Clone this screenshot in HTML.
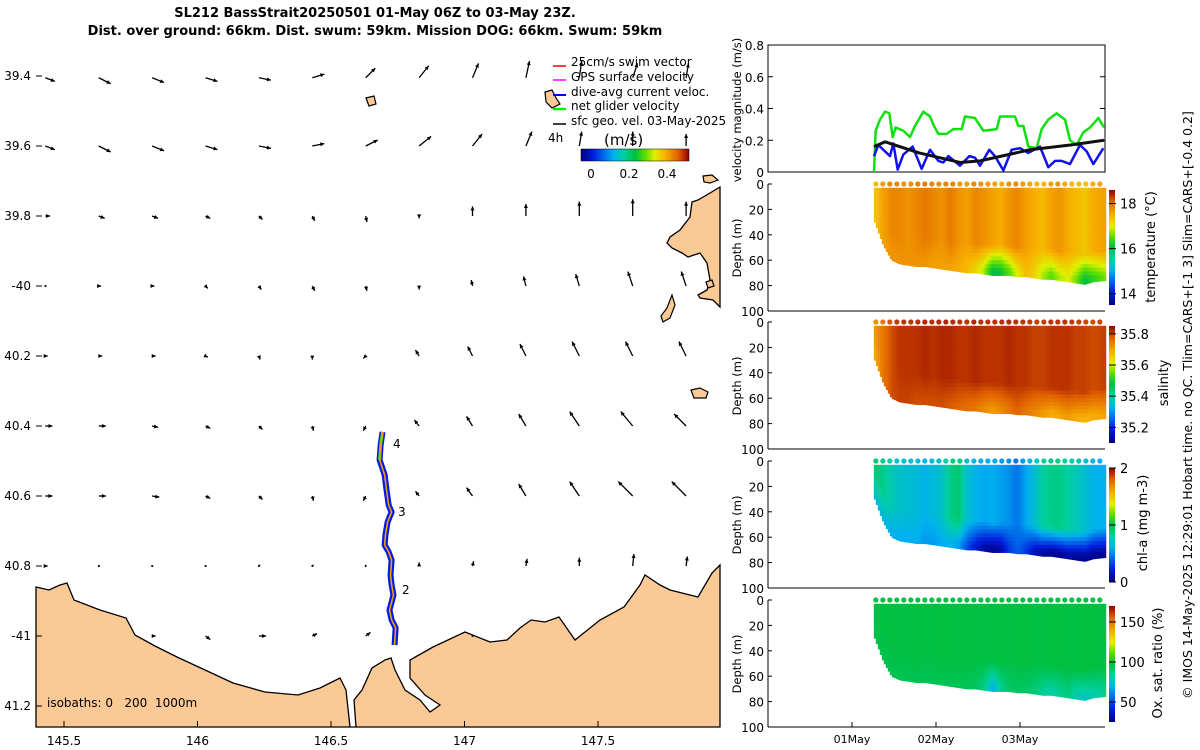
<!DOCTYPE html>
<html><head><meta charset="utf-8"><style>
html,body{margin:0;padding:0;background:#fff;}
svg{display:block;font-family:"DejaVu Sans","Liberation Sans",sans-serif;}
</style></head><body>
<svg id="c" width="1200" height="750" viewBox="0 0 1200 750" xmlns="http://www.w3.org/2000/svg">
<defs>
<linearGradient id="jetH" x1="0" x2="1" y1="0" y2="0">
<stop offset="0" stop-color="#000080"/><stop offset="0.12" stop-color="#0020e0"/><stop offset="0.3" stop-color="#00b0f0"/><stop offset="0.4" stop-color="#00d0a0"/><stop offset="0.5" stop-color="#00c040"/><stop offset="0.6" stop-color="#60e000"/><stop offset="0.68" stop-color="#e0f000"/><stop offset="0.78" stop-color="#f8b000"/><stop offset="0.9" stop-color="#e06000"/><stop offset="1" stop-color="#900000"/>
</linearGradient>
<linearGradient id="jetV" x1="0" x2="0" y1="1" y2="0">
<stop offset="0" stop-color="#000080"/><stop offset="0.12" stop-color="#0020e0"/><stop offset="0.3" stop-color="#00b0f0"/><stop offset="0.4" stop-color="#00d0a0"/><stop offset="0.5" stop-color="#00c040"/><stop offset="0.6" stop-color="#60e000"/><stop offset="0.68" stop-color="#e0f000"/><stop offset="0.78" stop-color="#f8b000"/><stop offset="0.9" stop-color="#e06000"/><stop offset="1" stop-color="#900000"/>
</linearGradient>
</defs>
<g font-weight="bold" font-size="13" text-anchor="middle">
<text x="375" y="17">SL212 BassStrait20250501 01-May 06Z to 03-May 23Z.</text>
<text x="375" y="35">Dist. over ground: 66km. Dist. swum: 59km. Mission DOG: 66km. Swum: 59km</text>
</g>
<g id="map">
<path fill="#fbc995" stroke="#000" stroke-width="1.3" d="M36,587 L49,590 L60,585 L67,583 L74,600 L100,610 L126,618 L135,635 L155,646 L177,657 L205,670 L233,683 L265,692 L298,695 L320,688 L340,678 L346,690 L350,727 L356,727 L354,700 L362,690 L372,668 L385,660 L391,658 L395,670 L405,690 L420,700 L430,712 L440,705 L425,695 L410,678 L410,660 L433,647 L465,632 L490,642 L507,640 L520,628 L531,620 L545,622 L559,617 L575,640 L600,620 L624,607 L640,585 L645,575 L660,585 L670,590 L698,597 L712,573 L720,565 L720,727 L36,727 Z"/>
<path fill="#fbc995" stroke="#000" stroke-width="1.3" d="M720,187 L710,193 L698,200 L692,202 L690,217 L680,230 L670,237 L667,243 L672,248 L682,253 L688,257 L700,253 L707,263 L710,280 L707,290 L698,295 L700,298 L713,300 L720,307 Z"/>
<path fill="#fbc995" stroke="#000" stroke-width="1.2" d="M672,295 L675,305 L670,318 L663,322 L661,316 L667,308 Z"/>
<path fill="#fbc995" stroke="#000" stroke-width="1.2" d="M691,390 L700,388 L708,392 L706,398 L694,398 Z"/>
<path fill="#fbc995" stroke="#000" stroke-width="1.2" d="M703,176 L712,175 L718,180 L710,183 L704,182 Z"/>
<path fill="#fbc995" stroke="#000" stroke-width="1.2" d="M366,98 L374,96 L376,104 L369,106 Z"/>
<path fill="#fbc995" stroke="#000" stroke-width="1.2" d="M545,92 L552,90 L556,98 L560,104 L552,108 L546,102 Z"/>
<path fill="#fbc995" stroke="#000" stroke-width="1.2" d="M706,282 L712,280 L714,286 L708,288 Z"/>
<g id="arrows"></g>
<g>
<polyline id="trackBlue" fill="none" stroke="#0018f0" stroke-width="6" stroke-linejoin="round"/>
<polyline id="trackGreen" fill="none" stroke="#20e020" stroke-width="3"/>
<polyline id="trackOrange" fill="none" stroke="#f0a000" stroke-width="1.6"/>
</g>
<g font-size="12">
<text x="393" y="448">4</text><text x="398" y="516">3</text><text x="402" y="594">2</text>
</g>
<text x="47" y="707" font-size="12" style="white-space:pre">isobaths: 0   200  1000m</text>
<g id="mapAxes" font-size="12"></g>
<g font-size="12">
<line x1="553" y1="66" x2="566" y2="66" stroke="#f00" stroke-width="1.5"/><text x="571" y="66">25cm/s swim vector</text>
<line x1="553" y1="80" x2="566" y2="80" stroke="#f0f" stroke-width="1.5"/><text x="571" y="81">GPS surface velocity</text>
<line x1="553" y1="95" x2="566" y2="95" stroke="#00f" stroke-width="2"/><text x="571" y="96">dive-avg current veloc.</text>
<line x1="553" y1="109" x2="566" y2="109" stroke="#0e0" stroke-width="2.5"/><text x="571" y="110">net glider velocity</text>
<line x1="553" y1="124" x2="566" y2="124" stroke="#000" stroke-width="1.5"/><text x="571" y="125">sfc geo. vel. 03-May-2025</text>
<text x="548" y="142">4h</text>
<text x="604" y="145" font-size="15">(m/s)</text>
<rect x="581" y="149" width="108" height="12" fill="url(#jetH)" stroke="#000" stroke-width="0.5"/>
<text x="591" y="178" text-anchor="middle">0</text><text x="629" y="178" text-anchor="middle">0.2</text><text x="667" y="178" text-anchor="middle">0.4</text>
</g>
</g>
<g id="right"></g>
<text transform="translate(1192,405) rotate(-90)" font-size="12.5" text-anchor="middle">© IMOS 14-May-2025 12:29:01 Hobart time. no QC. Tlim=CARS+[-1 3] Slim=CARS+[-0.4 0.2]</text>
</svg>
<script>
// ---------- velocity timeseries data (days since 01-May 00Z) ----------
const greenT=[0.262,0.282,0.333,0.393,0.444,0.484,0.520,0.611,0.690,0.750,0.849,0.929,0.976,1.028,1.127,1.206,1.306,1.345,1.464,1.563,1.722,1.762,1.940,1.980,2.040,2.099,2.198,2.258,2.337,2.436,2.536,2.595,2.675,2.754,2.833,2.933,3.0];
const greenV=[0,0.26,0.33,0.38,0.37,0.22,0.28,0.26,0.22,0.29,0.38,0.35,0.29,0.24,0.24,0.27,0.27,0.35,0.34,0.26,0.27,0.35,0.35,0.29,0.29,0.16,0.15,0.27,0.33,0.37,0.33,0.20,0.17,0.25,0.28,0.34,0.28];
const blueT=[0.262,0.313,0.373,0.452,0.492,0.544,0.611,0.722,0.829,0.929,1.028,1.087,1.147,1.286,1.397,1.464,1.524,1.635,1.702,1.802,1.901,2.0,2.099,2.238,2.337,2.417,2.496,2.595,2.714,2.794,2.873,2.992];
const blueV=[0.10,0.17,0.14,0.10,0.18,0.015,0.11,0.16,0.02,0.14,0.07,0.06,0.10,0.04,0.10,0.09,0.04,0.14,0.10,0.01,0.14,0.15,0.12,0.16,0.03,0.07,0.07,0.05,0.17,0.13,0.05,0.15];
const blackT=[0.262,0.393,0.8,1.286,1.524,2.119,2.6,3.0];
const blackV=[0.16,0.19,0.12,0.06,0.07,0.14,0.17,0.20];
const velTicks=[0,0.2,0.4,0.6,0.8];
const dayTicks=[0,1,2];
const dayLabels=["01May","02May","03May"];
const depthTicks=[0,20,40,60,80,100];
// ---------- section data ----------
const secT=[0.26,0.36,0.46,0.56,0.66,0.76,0.86,0.96,1.06,1.16,1.26,1.36,1.46,1.56,1.66,1.76,1.86,1.96,2.06,2.16,2.26,2.36,2.46,2.56,2.66,2.76,2.86,3.0];
const bottomDepth=[30,48,60,63,64,65,65,66,67,68,69,70,70,71,72,72,72,73,73,74,75,75,76,77,78,79,77,76];
const tempSurf=[17.3,17.6,17.8,17.8,17.7,17.8,17.9,17.8,17.7,17.9,17.7,17.6,17.8,17.7,17.6,17.5,17.7,17.8,17.6,17.5,17.4,17.6,17.7,17.5,17.4,17.3,17.5,17.6];
const tempDeep=[17.3,17.6,17.7,17.7,17.7,17.7,17.7,17.6,17.6,17.6,17.5,17.4,17.2,16.8,16.0,16.1,16.5,17.0,17.4,17.2,16.8,16.5,16.8,17.0,16.6,16.0,16.3,16.6];
const salSurf=[35.71,35.75,35.79,35.81,35.81,35.81,35.82,35.81,35.82,35.82,35.81,35.81,35.82,35.81,35.81,35.81,35.82,35.81,35.81,35.80,35.80,35.81,35.81,35.81,35.80,35.80,35.79,35.80];
const salDeep=[35.69,35.75,35.79,35.80,35.80,35.79,35.79,35.79,35.79,35.78,35.77,35.76,35.75,35.73,35.71,35.73,35.75,35.77,35.75,35.73,35.71,35.69,35.70,35.71,35.69,35.68,35.69,35.70];
const chlSurf=[0.9,0.85,0.75,0.7,0.68,0.66,0.62,0.66,0.7,0.85,0.9,0.68,0.62,0.58,0.6,0.56,0.52,0.45,0.58,0.68,0.8,0.85,0.85,0.8,0.75,0.68,0.62,0.6];
const chlDeep=[0.7,0.65,0.6,0.6,0.6,0.6,0.55,0.55,0.6,0.62,0.55,0.35,0.2,0.1,0.05,0.1,0.3,0.4,0.3,0.15,0.08,0.05,0.05,0.1,0.05,0.05,0.05,0.05];
const oxySurf=[97,97,98,97,97,98,97,97,98,97,97,98,97,97,97,98,97,97,98,97,97,97,98,97,97,98,97,97];
const oxyDeep=[96,96,95,95,95,95,95,95,95,95,95,94,93,88,70,85,92,93,92,90,85,82,85,88,80,78,82,85];
// ---------- map vector data (cm/s east, north) ----------
const lonTicks=[145.5,146,146.5,147,147.5];
const latTicks=[-39.4,-39.6,-39.8,-40,-40.2,-40.4,-40.6,-40.8,-41,-41.2];
const latLabels=["39.4","39.6","39.8","-40","40.2","40.4","40.6","40.8","-41","41.2"];
const vecLon=[145.43,145.63,145.83,146.03,146.23,146.43,146.63,146.83,147.03,147.23,147.43,147.63,147.83];
const vecLat=[-39.405,-39.6,-39.8,-40,-40.2,-40.4,-40.6,-40.8,-41];
const vecU=[
[8,10,10,10,10,10,8,8,5,3,2,4,2],
[8,10,10,10,10,10,10,10,8,5,2,0,0],
[4,5,5,4,3,2,1,0,0,0,0,0,0],
[1,2,2,2,2,2,1,0,-1,-2,-3,-4,-4],
[2,3,3,2,1,0,-2,-3,-4,-5,-6,-6,-6],
[6,6,5,4,3,1,-2,-4,-5,-6,-8,-10,-10],
[6,6,6,4,3,1,-2,-3,-5,-6,-8,-12,-12],
[2,1,1,1,1,1,0,0,1,1,0,1,1],
[null,null,3,4,6,4,4,null,0,null,null,null,null]];
const vecV=[
[-3,-5,-4,-3,-2,3,8,10,12,14,14,12,12],
[-3,-5,-4,-3,-2,2,5,8,10,12,12,12,10],
[0,-2,-2,-2,-3,-4,-5,-2,8,10,12,14,12],
[0,0,0,-2,-3,-4,-4,-3,5,8,10,12,12],
[0,0,0,-1,-3,-3,-2,5,8,10,12,12,12],
[0,0,-1,-2,-3,-4,-4,5,8,10,12,12,10],
[0,0,-1,-2,-3,-4,-4,4,7,10,12,12,12],
[0,0,0,0,1,1,1,3,4,6,7,10,8],
[null,null,0,-3,0,2,3,null,0,null,null,null,null]];
const trackLon=[146.693,146.686,146.682,146.701,146.708,146.716,146.727,146.712,146.704,146.701,146.716,146.727,146.723,146.727,146.734,146.719,146.727,146.742,146.738];
const trackLat=[-40.417,-40.454,-40.497,-40.54,-40.583,-40.626,-40.646,-40.674,-40.711,-40.74,-40.76,-40.783,-40.826,-40.854,-40.883,-40.926,-40.954,-40.977,-41.026];

const NS='http://www.w3.org/2000/svg';
function mk(tag,attrs,parent){const e=document.createElementNS(NS,tag);for(const k in attrs)e.setAttribute(k,attrs[k]);parent.appendChild(e);return e;}
const stops=[[0,[0,0,128]],[0.12,[0,32,224]],[0.3,[0,176,240]],[0.4,[0,208,160]],[0.5,[0,192,64]],[0.6,[96,224,0]],[0.68,[224,240,0]],[0.78,[248,176,0]],[0.9,[224,96,0]],[1,[144,0,0]]];
function cmap(f){f=Math.max(0,Math.min(1,f));for(let i=1;i<stops.length;i++){if(f<=stops[i][0]){const a=stops[i-1],b=stops[i];const r=(f-a[0])/(b[0]-a[0]);const c=a[1].map((v,j)=>Math.round(v+(b[1][j]-v)*r));return 'rgb('+c.join(',')+')';}}return 'rgb(144,0,0)';}
function interp(T,V,t){if(t<=T[0])return V[0];for(let i=1;i<T.length;i++){if(t<=T[i]){const r=(t-T[i-1])/(T[i]-T[i-1]);return V[i-1]+(V[i]-V[i-1])*r;}}return V[V.length-1];}

// map axes
const mx=lon=>64+(lon-145.5)*267;
const my=lat=>76+(-39.4-lat)*350;
const ax=document.getElementById('mapAxes');
lonTicks.forEach(l=>{const x=mx(l);
 const tk=mk('line',{x1:x,y1:727,x2:x,y2:721,stroke:'#000'},ax);
 
 
 const t=mk('text',{x:x,y:745,'text-anchor':'middle'},ax);t.textContent=String(l);
 
 });
latTicks.forEach((l,i)=>{const y=my(l);
 mk('line',{x1:36,y1:y,x2:42,y2:y,stroke:'#000'},ax);
 const t=mk('text',{x:31,y:y+4,'text-anchor':'end'},ax);t.textContent=latLabels[i];
 
 });
// vectors
const ag=document.getElementById('arrows');
vecLat.forEach((la,r)=>vecLon.forEach((lo,c)=>{const u=vecU[r][c],v=vecV[r][c];if(u===null)return;
 const x=mx(lo),y=my(la),x2=x+u*1.2,y2=y-v*1.2;
 const g=mk('g',{},ag);
 
 
 mk('line',{x1:x,y1:y,x2:x2,y2:y2,stroke:'#000','stroke-width':1.3},g);
 const L=Math.hypot(x2-x,y2-y);
 if(L<2){mk('circle',{cx:x,cy:y,r:1,fill:'#000'},g);return;}
 const ux=(x2-x)/L,uy=(y2-y)/L,h=4;
 mk('polygon',{points:`${x2},${y2} ${x2-ux*h-uy*2},${y2-uy*h+ux*2} ${x2-ux*h+uy*2},${y2-uy*h-ux*2}`,fill:'#000'},g);
}));
const tp=trackLon.map((lo,i)=>mx(lo)+','+my(trackLat[i])).join(' ');
['trackBlue','trackOrange'].forEach(id=>document.getElementById(id).setAttribute('points',tp));
document.getElementById('trackGreen').setAttribute('points',trackLon.slice(0,3).map((lo,i)=>mx(lo)+','+my(trackLat[i])).join(' '));

// right panels
const R=document.getElementById('right');
const X0=768,X1=1105;
const tx=t=>852+84*t;
function text(x,y,s,attrs,name){const t=mk('text',Object.assign({x:x,y:y,'font-size':12},attrs||{}),R);t.textContent=s;
 
 
 return t;}
// velocity panel
const VT=45,VB=172;const vy=v=>VB-(v/0.8)*(VB-VT);
const vb=mk('rect',{x:X0,y:VT,width:X1-X0,height:VB-VT,fill:'none',stroke:'#000'},R);


velTicks.forEach(v=>{mk('line',{x1:X0,x2:X0+5,y1:vy(v),y2:vy(v),stroke:'#000'},R);mk('line',{x1:X1,x2:X1-5,y1:vy(v),y2:vy(v),stroke:'#000'},R);text(764,vy(v)+5,String(v),{'text-anchor':'end'},'velocity-tick-label');});
text(0,0,'velocity magnitude (m/s)',{transform:'translate(741,110) rotate(-90)','text-anchor':'middle','font-size':11.5},'velocity-y-axis-title');
function series(T,V,color,w,name){const p=mk('polyline',{points:T.map((t,i)=>tx(t)+','+vy(V[i])).join(' '),fill:'none',stroke:color,'stroke-width':w,'stroke-linejoin':'round'},R);
 
 }
series(greenT,greenV,'#10e010',2.5,'net-glider-velocity-line');
series(blueT,blueV,'#1010f0',2.5,'dive-avg-current-line');
series(blackT,blackV,'#111',3,'geostrophic-velocity-line');
// sections
const panels=[
 {top:184,surf:tempSurf,deep:tempDeep,min:13.5,max:18.6,cbTop:190,cbBot:305,ticks:[14,16,18],lab:'temperature (°C)',lx:1155,ly:247,name:'temperature'},
 {top:322,surf:salSurf,deep:salDeep,min:35.1,max:35.85,cbTop:326,cbBot:443,ticks:[35.2,35.4,35.6,35.8],lab:'salinity',lx:1168,ly:383,name:'salinity'},
 {top:461,surf:chlSurf,deep:chlDeep,min:0,max:2,cbTop:468,cbBot:582,ticks:[0,1,2],lab:'chl-a (mg m-3)',lx:1147,ly:523,name:'chlorophyll'},
 {top:600,surf:oxySurf,deep:oxyDeep,min:25,max:170,cbTop:606,cbBot:722,ticks:[50,100,150],lab:'Ox. sat. ratio (%)',lx:1162,ly:663,name:'oxygen'}];
panels.forEach(P=>{
 const H=127,dy=d=>P.top+d*H/100;
 const g=mk('g',{},R);
 
 
 const f=v=>(v-P.min)/(P.max-P.min);
 const xs=tx(secT[0]);
 for(let x=xs;x<X1;x+=2){const t=(x-852)/84;
  const bd=interp(secT,bottomDepth,t),sv=interp(secT,P.surf,t),dv=interp(secT,P.deep,t);
  for(let d=3;d<bd;d+=3){const w=Math.max(0,Math.min(1,(d-(bd-25))/20));
   const v=sv+(dv-sv)*w;const dd=Math.min(3,bd-d);
   mk('rect',{x:x,y:dy(d),width:2.4,height:dd*H/100+0.5,fill:cmap(f(v))},g);}
 }
 for(let x=xs+2;x<X1;x+=7){const t=(x-852)/84;mk('circle',{cx:x,cy:dy(0),r:2.6,fill:cmap(f(interp(secT,P.surf,t)))},g);}
 mk('line',{x1:X0,x2:X0,y1:P.top,y2:P.top+H,stroke:'#000'},R);
 mk('line',{x1:X0,x2:X1,y1:P.top+H,y2:P.top+H,stroke:'#000'},R);
 depthTicks.forEach(d=>{mk('line',{x1:X0,x2:X0+4,y1:dy(d),y2:dy(d),stroke:'#000'},R);text(764,dy(d)+5,String(d),{'text-anchor':'end'},'depth-tick-label');});
 text(0,0,'Depth (m)',{transform:`translate(741,${P.top+64}) rotate(-90)`,'text-anchor':'middle','font-size':11.5},'depth-axis-title');
 const cb=mk('rect',{x:1109,y:P.cbTop,width:6,height:P.cbBot-P.cbTop,fill:'url(#jetV)'},R);
 
 
 P.ticks.forEach(v=>{const y=P.cbBot-f(v)*(P.cbBot-P.cbTop);mk('line',{x1:1109,x2:1116,y1:y,y2:y,stroke:'#000'},R);text(1120,y+5,String(v),{'font-size':13},'colorbar-tick-label');});
 text(0,0,P.lab,{transform:`translate(${P.lx},${P.ly}) rotate(-90)`,'text-anchor':'middle','font-size':13},P.name+'-colorbar-title');
});
dayTicks.forEach((d,i)=>{mk('line',{x1:tx(d),x2:tx(d),y1:727,y2:722,stroke:'#000'},R);text(tx(d),743,dayLabels[i],{'text-anchor':'middle','font-size':11},'date-tick-label');});
</script>
</body></html>
